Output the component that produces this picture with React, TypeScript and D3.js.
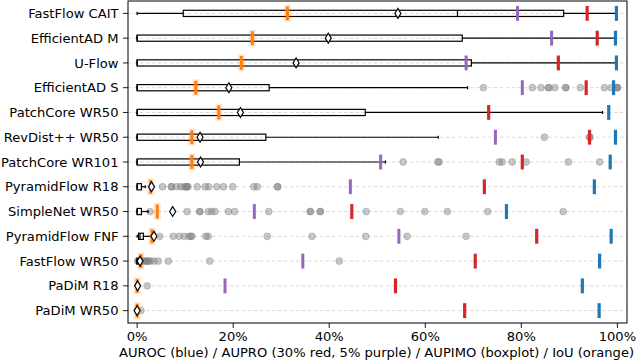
import React from "react";
import * as d3 from "d3";

const models = [
  "FastFlow CAIT", "EfficientAD M", "U-Flow", "EfficientAD S", "PatchCore WR50",
  "RevDist++ WR50", "PatchCore WR101", "PyramidFlow R18", "SimpleNet WR50",
  "PyramidFlow FNF", "FastFlow WR50", "PaDiM R18", "PaDiM WR50",
];
const whiskerLo = [0, 0, 0, 0, 0, 0, 0, 0, 0, 0, 0, 0, 0];
const q1 = [9.6, 0, 0, 0, 0, 0, 0, 0, 0, 0.3, 0, 0, 0];
const median = [66.7, 0, 0, 0, 0, 0, 0, 0, 0, 0.6, 0, 0, 0];
const q3 = [88.8, 67.7, 69.6, 27.5, 47.5, 26.8, 21.3, 0.9, 0.9, 1.3, 0, 0, 0];
const whiskerHi = [99.8, 99.8, 100, 68.8, 96.9, 62.7, 51.7, 1.7, 2.3, 3.0, 0, 0, 0];
const means = [54.3, 39.8, 33.1, 19.1, 21.5, 13.1, 13.2, 3.0, 7.4, 3.5, 0.6, 0.1, 0];
const iou = [31.3, 24.0, 21.7, 12.2, 17.0, 11.4, 11.4, 2.8, 4.2, 3.1, 0.8, 0, 0];
const aupro30 = [93.7, 95.8, 87.7, 93.5, 73.2, 94.2, 80.2, 72.3, 44.7, 83.2, 70.4, 53.8, 68.2];
const aupro5: (number | null)[] = [79.2, 86.3, 68.5, 80.2, null, 74.6, 50.7, 44.4, 24.4, 54.5, 34.5, 18.3, null];
const auroc = [99.8, 99.6, 99.8, 99.2, 98.2, 99.6, 98.5, 95.2, 76.9, 98.7, 96.3, 92.7, 96.2];
const fliers: number[][] = [
  [],
  [],
  [],
  [72.1, 82.3, 84.1, 85.6, 85.8, 87.0, 89.2, 89.3, 92.3, 97.3, 98.7, 99.8, 100, 100],
  [],
  [84.8, 94.2, 94.3],
  [55.4, 62.6, 62.9, 75.4, 76.0, 78.1, 81.0, 89.8, 96.3],
  [5.3, 7.1, 7.2, 8.2, 9.1, 9.8, 10.2, 10.4, 10.6, 12.5, 14.2, 14.9, 16.6, 18.0, 19.9, 24.3, 25.0, 29.2, 29.3],
  [2.7, 10.4, 13.0, 13.1, 14.8, 15.5, 16.2, 19.0, 20.3, 27.4, 36.0, 36.1, 38.1, 38.2, 47.7, 54.8, 59.9, 64.6, 73.0, 88.7],
  [4.7, 7.5, 8.75, 9.8, 10.8, 11.2, 11.4, 14.3, 14.8, 27.1, 36.4, 47.6, 56.2, 68.5],
  [0.1, 0.3, 0.4, 0.8, 1.2, 1.6, 2.0, 2.1, 2.4, 2.8, 3.5, 4.4, 6.5, 15.1, 42.1],
  [2.1],
  [0.8],
];
const xTicks = [0, 20, 40, 60, 80, 100];
const xLabel = "AUROC (blue) / AUPRO (30% red, 5% purple) / AUPIMO (boxplot) / IoU (orange)";

const W = 638, H = 362;
const L = 128, R = 627, T = 1, B = 323;
const FONT = "'DejaVu Sans', sans-serif";
const FS = 13.1;

export default function App() {
  const x = d3.scaleLinear().domain([-1.9, 102]).range([L, R]);
  const y = d3.scaleLinear().domain([-0.5, 12.5]).range([T, B]);
  const rowH = y(1) - y(0);
  const boxH = rowH * 0.25;
  const capH = boxH * 0.5;
  const mH = rowH * 0.3;

  const vbar = (v: number, i: number, color: string, w: number, key: string) => (
    <rect key={key} x={x(v) - w / 2} y={y(i) - mH} width={w} height={mH * 2} fill={color} />
  );

  return (
    <div style={{ position: "fixed", left: 0, top: 0 }}>
      <svg width={W} height={H} style={{ display: "block", background: "#fff" }}>
        {/* grid */}
        {models.map((_, i) => (
          <line key={"g" + i} x1={L} x2={R} y1={y(i)} y2={y(i)} stroke="#cfcfcf" strokeWidth={0.8} strokeDasharray="3.5,2.5" />
        ))}
        {/* fliers */}
        {fliers.map((arr, i) =>
          arr.map((v, j) => (
            <circle key={`f${i}-${j}`} cx={x(v)} cy={y(i)} r={3.4} fill="#7f7f7f" fillOpacity={0.42} stroke="#7f7f7f" strokeOpacity={0.5} strokeWidth={0.8} />
          ))
        )}
        {/* boxplots */}
        {models.map((_, i) => {
          const yc = y(i);
          return (
            <g key={"b" + i} stroke="#000" strokeWidth={1.2} fill="none">
              <line x1={x(whiskerLo[i])} x2={x(q1[i])} y1={yc} y2={yc} />
              <line x1={x(q3[i])} x2={x(whiskerHi[i])} y1={yc} y2={yc} />
              <line x1={x(whiskerLo[i])} x2={x(whiskerLo[i])} y1={yc - capH / 2} y2={yc + capH / 2} />
              <line x1={x(whiskerHi[i])} x2={x(whiskerHi[i])} y1={yc - capH / 2} y2={yc + capH / 2} />
              <rect x={x(q1[i])} y={yc - boxH / 2} width={Math.max(x(q3[i]) - x(q1[i]), 0.01)} height={boxH} />
              <line x1={x(median[i])} x2={x(median[i])} y1={yc - boxH / 2} y2={yc + boxH / 2} />
            </g>
          );
        })}
        {/* orange IoU */}
        {iou.map((v, i) => (
          <g key={"o" + i}>
            <rect x={x(v) - 3.5} y={y(i) - mH - 1} width={7} height={mH * 2 + 2} fill="#ff7f0e" fillOpacity={0.2} />
            <rect x={x(v) - 1.5} y={y(i) - mH + 0.5} width={3} height={mH * 2 - 1} fill="#ff7f0e" />
          </g>
        ))}
        {/* purple AUPRO 5% */}
        {aupro5.map((v, i) => (v == null ? null : vbar(v, i, "#9467bd", 3, "p" + i)))}
        {/* red AUPRO 30% */}
        {aupro30.map((v, i) => vbar(v, i, "#d62728", 3.2, "r" + i))}
        {/* blue AUROC */}
        {auroc.map((v, i) => vbar(v, i, "#1f77b4", 3.2, "u" + i))}
        {/* mean diamonds */}
        {means.map((v, i) => {
          const cx = x(v), cy = y(i);
          return (
            <path key={"m" + i} d={`M${cx},${cy - 4.9}L${cx + 3},${cy}L${cx},${cy + 4.9}L${cx - 3},${cy}Z`} fill="#fff" stroke="#000" strokeWidth={1.2} />
          );
        })}
        {/* frame */}
        <rect x={L} y={T} width={R - L} height={B - T} fill="none" stroke="#000" strokeWidth={1} />
        {/* y axis */}
        {models.map((m, i) => (
          <g key={"yl" + i}>
            <line x1={L - 5} x2={L} y1={y(i)} y2={y(i)} stroke="#000" strokeWidth={0.9} />
            <text x={L - 9.5} y={y(i)} dy="0.35em" textAnchor="end" fontFamily={FONT} fontSize={FS} fill="#000">{m}</text>
          </g>
        ))}
        {/* x axis */}
        {xTicks.map((t) => (
          <g key={"xt" + t}>
            <line x1={x(t)} x2={x(t)} y1={B} y2={B + 5} stroke="#000" strokeWidth={0.9} />
            <text x={x(t)} y={341} textAnchor="middle" fontFamily={FONT} fontSize={FS} fill="#000">{t + "%"}</text>
          </g>
        ))}
        <text x={(L + R) / 2 - 1} y={357} textAnchor="middle" fontFamily={FONT} fontSize={FS} fill="#000">{xLabel}</text>
      </svg>
    </div>
  );
}
